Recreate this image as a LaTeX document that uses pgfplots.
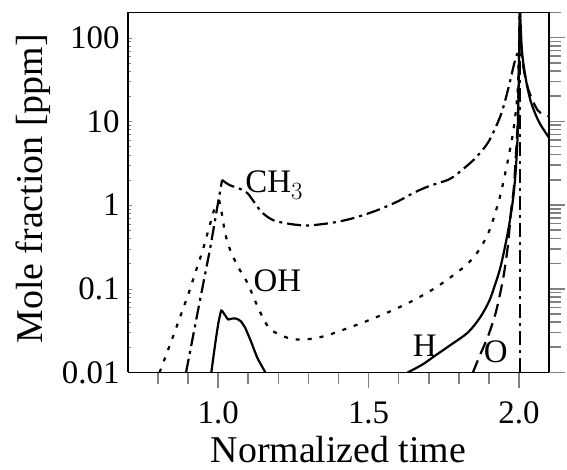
\documentclass[border=0pt]{standalone}
\usepackage{fontspec}
\setmainfont{Liberation Serif}
\usepackage{pgfplots}
\pgfplotsset{compat=1.18}
\tikzset{mylab/.style={font=\fontsize{33}{36}\selectfont, inner sep=0pt},
  ch3line/.style={black, line width=2.2bp, dash pattern=on 14bp off 5bp on 3bp off 5bp},
  ohline/.style={black, line width=2.2bp, dash pattern=on 4bp off 8bp},
  hline/.style={black, line width=2.2bp},
  oline/.style={black, line width=2.2bp, dash pattern=on 13bp off 7bp}}
\begin{document}
\begin{tikzpicture}
\begin{axis}[
  scale only axis, width=421bp, height=360bp,
  xmin=0.7, xmax=2.1, ymode=log, ymin=0.01, ymax=200,
  axis x line*=top, axis y line*=left,
  axis line style={line width=1.6bp},
  ticklabel style={font=\fontsize{33}{36}\selectfont},
  ytick={0.01,0.1,1,10,100},
  minor ytick={0.02,0.03,0.04,0.05,0.06,0.07,0.08,0.09,0.2,0.3,0.4,0.5,0.6,0.7,0.8,0.9,2,3,4,5,6,7,8,9,20,30,40,50,60,70,80,90,200},
  tick align=inside,
  xtick=\empty,
  minor xtick={0.8,0.9,1.0,1.1,1.2,1.3,1.4,1.5,1.6,1.7,1.8,1.9,2.0},
  yticklabels={0.01,0.1,1,10,100},
  yticklabel style={xshift=-5bp},
  ylabel={Mole fraction [ppm]},
  every axis y label/.style={at={(axis description cs:-0.225,0.51)}, rotate=90, anchor=center, font=\fontsize{38}{40}\selectfont},
]
% CH3 (dash-dot)
\addplot[ch3line] coordinates {
(0.893,0.01) (0.94,0.075) (0.973,0.3) (0.997,0.95) (1.013,2.0)
};
\addplot[ch3line, smooth, tension=0.5] coordinates {
(1.013,2.0) (1.025,1.85) (1.04,1.72) (1.057,1.64) (1.075,1.55) (1.097,1.39) (1.12,1.08) (1.14,0.86) (1.16,0.74) (1.183,0.66) (1.22,0.61) (1.263,0.58) (1.3,0.57) (1.373,0.61) (1.43,0.67) (1.483,0.76) (1.54,0.9) (1.6,1.12) (1.65,1.4) (1.7,1.68) (1.77,2.05) (1.82,2.8) (1.86,3.8) (1.9,5.8) (1.94,12) (1.965,25) (1.985,50) (2.003,80)
};
\addplot[ch3line] coordinates {(2.003,0.01) (2.003,200)};
% OH (dotted)
\addplot[ohline] coordinates {
(0.805,0.01) (0.85,0.027) (0.9,0.085) (0.95,0.3) (0.987,0.9) (1.003,1.15)
};
\addplot[ohline, smooth, tension=0.5] coordinates {
(1.003,1.15) (1.013,0.76) (1.023,0.46) (1.04,0.29) (1.067,0.18) (1.097,0.118) (1.14,0.052) (1.173,0.033) (1.23,0.026) (1.283,0.0247) (1.35,0.027) (1.417,0.0325) (1.5,0.042) (1.583,0.056) (1.65,0.073) (1.717,0.1) (1.77,0.135) (1.83,0.2) (1.87,0.3) (1.9,0.48) (1.92,0.78) (1.94,1.39) (1.963,3.4) (1.983,8.5) (1.997,28) (2.003,300)
};
% H (solid), early bump
\addplot[hline, smooth, tension=0.3] coordinates {
(0.977,0.01) (0.99,0.022) (1.0,0.038) (1.01,0.055) (1.02,0.05) (1.033,0.043) (1.045,0.044) (1.06,0.044) (1.075,0.041) (1.09,0.034) (1.11,0.023) (1.13,0.015) (1.157,0.01)
};
% H (solid), ignition
\addplot[hline, smooth, tension=0.5] coordinates {
(1.63,0.01) (1.68,0.0125) (1.717,0.0155) (1.77,0.021) (1.83,0.03) (1.87,0.045) (1.9,0.07) (1.92,0.11) (1.94,0.19) (1.963,0.47) (1.98,1.15) (1.99,2.8) (1.997,10) (2.003,250)
};
\addplot[hline, smooth, tension=0.5] coordinates {
(2.003,250) (2.01,70) (2.023,32) (2.04,17) (2.067,9.8) (2.1,6.4)
};
% O (dashed)
\addplot[oline, smooth, tension=0.5] coordinates {
(1.847,0.01) (1.87,0.016) (1.897,0.027) (1.923,0.052) (1.947,0.13) (1.963,0.32) (1.973,0.8) (1.983,1.6) (1.99,4) (1.997,13) (2.003,250)
};
\addplot[oline, smooth, tension=0.5] coordinates {
(2.003,250) (2.01,60) (2.03,25) (2.063,13.5) (2.1,11.5)
};
\node[mylab, anchor=base west] at (axis cs:1.09,1.43) {CH$_3$};
\node[mylab, anchor=base west] at (axis cs:1.117,0.092) {OH};
\node[mylab, anchor=base west] at (axis cs:1.647,0.0155) {H};
\node[mylab, anchor=base west] at (axis cs:1.883,0.0131) {O};
\end{axis}
\begin{axis}[
  scale only axis, width=421bp, height=360bp,
  xmin=0.7, xmax=2.1, ymode=log, ymin=0.01, ymax=200,
  axis x line*=bottom, axis y line*=right,
  axis line style={line width=1.6bp},
  major tick style={line width=1.6bp},
  minor tick style={line width=1.6bp},
  ticklabel style={font=\fontsize{33}{36}\selectfont},
  ytick={0.01,0.1,1,10,100},
  minor ytick={0.02,0.03,0.04,0.05,0.06,0.07,0.08,0.09,0.2,0.3,0.4,0.5,0.6,0.7,0.8,0.9,2,3,4,5,6,7,8,9,20,30,40,50,60,70,80,90,200},
  tick align=outside,
  xtick={1,1.5,2}, xticklabels={1.0,1.5,2.0},
  minor xtick={0.8,0.9,1.1,1.2,1.3,1.4,1.6,1.7,1.8,1.9},
  yticklabels={},
  major tick length=16pt, minor tick length=12pt,
  xticklabel style={yshift=-10bp},
  xlabel={Normalized time},
  every axis x label/.style={at={(axis description cs:0.5,-0.25)}, anchor=base, font=\fontsize{38}{40}\selectfont},
]
\end{axis}
\pgfresetboundingbox
\path ([xshift=-128bp,yshift=-97.5bp]current axis.south west) rectangle ([xshift=18bp,yshift=12.5bp]current axis.north east);
\end{tikzpicture}
\end{document}
